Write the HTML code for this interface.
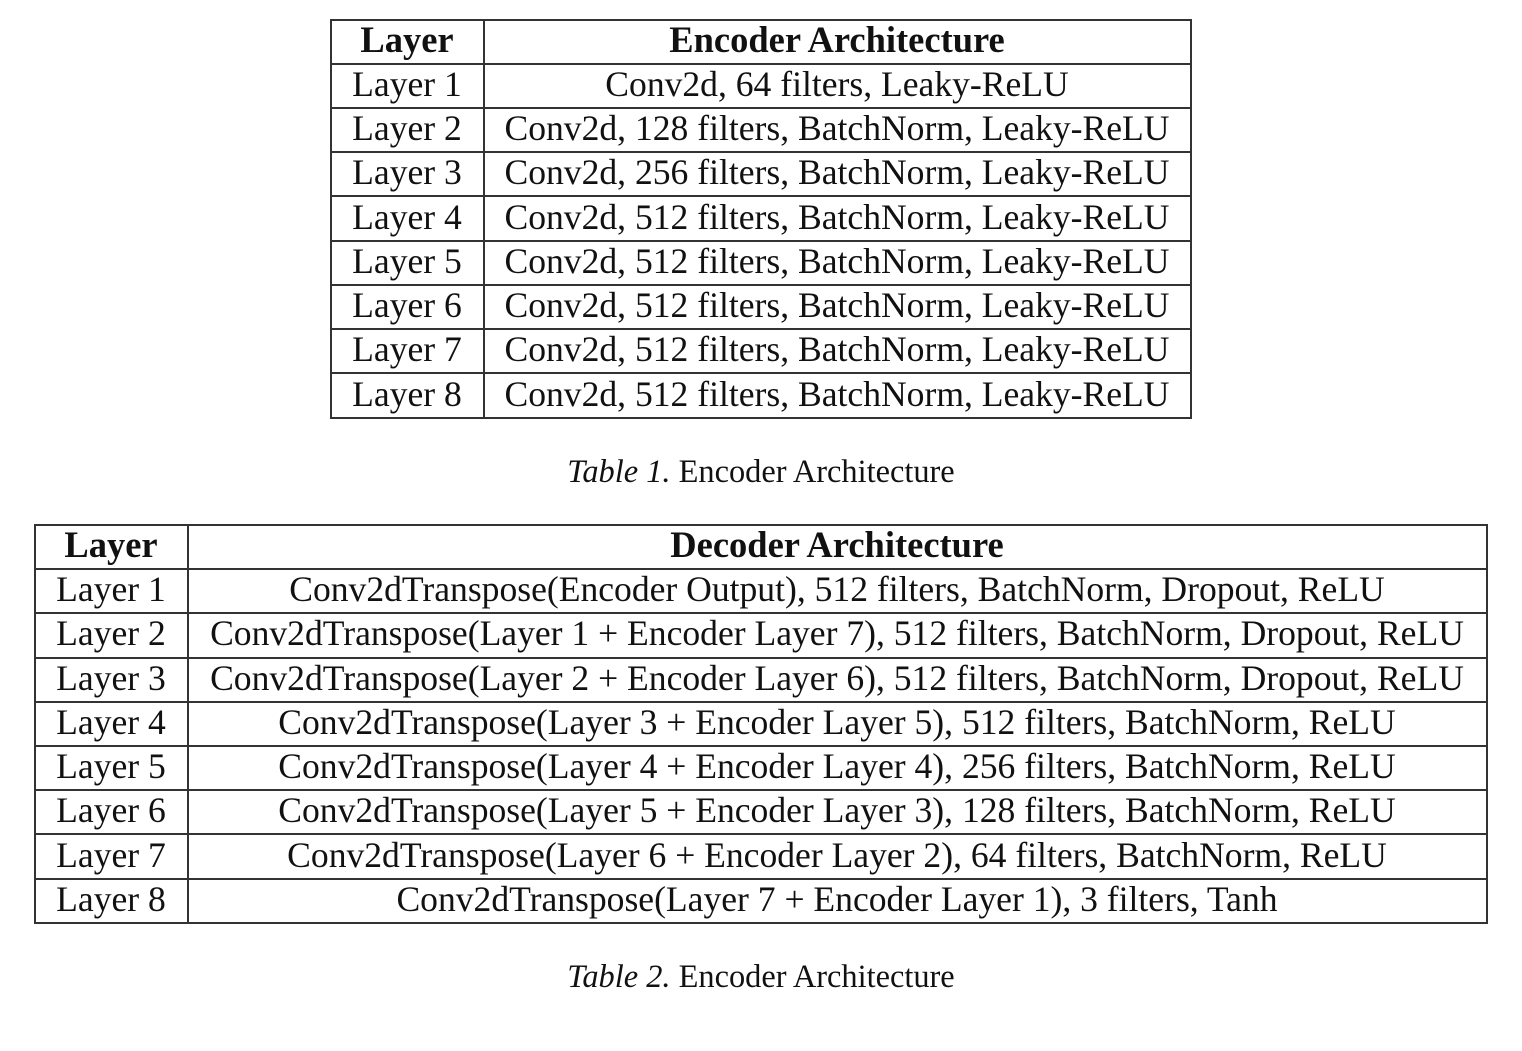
<!DOCTYPE html>
<html><head><meta charset="utf-8"><style>
html,body{margin:0;padding:0;background:#fff;}
svg text{font-family:"Liberation Serif",serif;fill:#111;}
</style></head><body>
<svg width="1522" height="1046" viewBox="0 0 1522 1046" xmlns="http://www.w3.org/2000/svg">
<g stroke="#333" stroke-width="2" fill="none">
<rect x="331" y="20" width="860" height="398"/>
<line x1="484" y1="20" x2="484" y2="418"/>
<line x1="331" y1="64" x2="1191" y2="64"/>
<line x1="331" y1="108" x2="1191" y2="108"/>
<line x1="331" y1="152" x2="1191" y2="152"/>
<line x1="331" y1="196" x2="1191" y2="196"/>
<line x1="331" y1="241" x2="1191" y2="241"/>
<line x1="331" y1="285" x2="1191" y2="285"/>
<line x1="331" y1="329" x2="1191" y2="329"/>
<line x1="331" y1="373" x2="1191" y2="373"/>
<rect x="35" y="525" width="1452" height="398"/>
<line x1="188" y1="525" x2="188" y2="923"/>
<line x1="35" y1="569" x2="1487" y2="569"/>
<line x1="35" y1="613" x2="1487" y2="613"/>
<line x1="35" y1="658" x2="1487" y2="658"/>
<line x1="35" y1="702" x2="1487" y2="702"/>
<line x1="35" y1="746" x2="1487" y2="746"/>
<line x1="35" y1="790" x2="1487" y2="790"/>
<line x1="35" y1="834" x2="1487" y2="834"/>
<line x1="35" y1="879" x2="1487" y2="879"/>
</g>
<g font-size="35.6" text-anchor="middle">
<text x="407" y="52" font-weight="bold" font-size="36.5">Layer</text>
<text x="837" y="52" font-weight="bold" font-size="36.5">Encoder Architecture</text>
<text x="407" y="96">Layer 1</text><text x="837" y="96">Conv2d, 64 filters, Leaky-ReLU</text>
<text x="407" y="140">Layer 2</text><text x="837" y="140">Conv2d, 128 filters, BatchNorm, Leaky-ReLU</text>
<text x="407" y="184">Layer 3</text><text x="837" y="184">Conv2d, 256 filters, BatchNorm, Leaky-ReLU</text>
<text x="407" y="229">Layer 4</text><text x="837" y="229">Conv2d, 512 filters, BatchNorm, Leaky-ReLU</text>
<text x="407" y="273">Layer 5</text><text x="837" y="273">Conv2d, 512 filters, BatchNorm, Leaky-ReLU</text>
<text x="407" y="317">Layer 6</text><text x="837" y="317">Conv2d, 512 filters, BatchNorm, Leaky-ReLU</text>
<text x="407" y="361">Layer 7</text><text x="837" y="361">Conv2d, 512 filters, BatchNorm, Leaky-ReLU</text>
<text x="407" y="406">Layer 8</text><text x="837" y="406">Conv2d, 512 filters, BatchNorm, Leaky-ReLU</text>

<text x="111" y="557" font-weight="bold" font-size="36.5">Layer</text>
<text x="837" y="557" font-weight="bold" font-size="36.5">Decoder Architecture</text>
<text x="111" y="601">Layer 1</text><text x="837" y="601">Conv2dTranspose(Encoder Output), 512 filters, BatchNorm, Dropout, ReLU</text>
<text x="111" y="645">Layer 2</text><text x="837" y="645">Conv2dTranspose(Layer 1 + Encoder Layer 7), 512 filters, BatchNorm, Dropout, ReLU</text>
<text x="111" y="690">Layer 3</text><text x="837" y="690">Conv2dTranspose(Layer 2 + Encoder Layer 6), 512 filters, BatchNorm, Dropout, ReLU</text>
<text x="111" y="734">Layer 4</text><text x="837" y="734">Conv2dTranspose(Layer 3 + Encoder Layer 5), 512 filters, BatchNorm, ReLU</text>
<text x="111" y="778">Layer 5</text><text x="837" y="778">Conv2dTranspose(Layer 4 + Encoder Layer 4), 256 filters, BatchNorm, ReLU</text>
<text x="111" y="822">Layer 6</text><text x="837" y="822">Conv2dTranspose(Layer 5 + Encoder Layer 3), 128 filters, BatchNorm, ReLU</text>
<text x="111" y="867">Layer 7</text><text x="837" y="867">Conv2dTranspose(Layer 6 + Encoder Layer 2), 64 filters, BatchNorm, ReLU</text>
<text x="111" y="911">Layer 8</text><text x="837" y="911">Conv2dTranspose(Layer 7 + Encoder Layer 1), 3 filters, Tanh</text>
</g>
<g font-size="32.4" text-anchor="middle">
<text x="761" y="482"><tspan font-style="italic">Table 1.</tspan> Encoder Architecture</text>
<text x="761" y="987"><tspan font-style="italic">Table 2.</tspan> Encoder Architecture</text>
</g>
</svg>
</body></html>
